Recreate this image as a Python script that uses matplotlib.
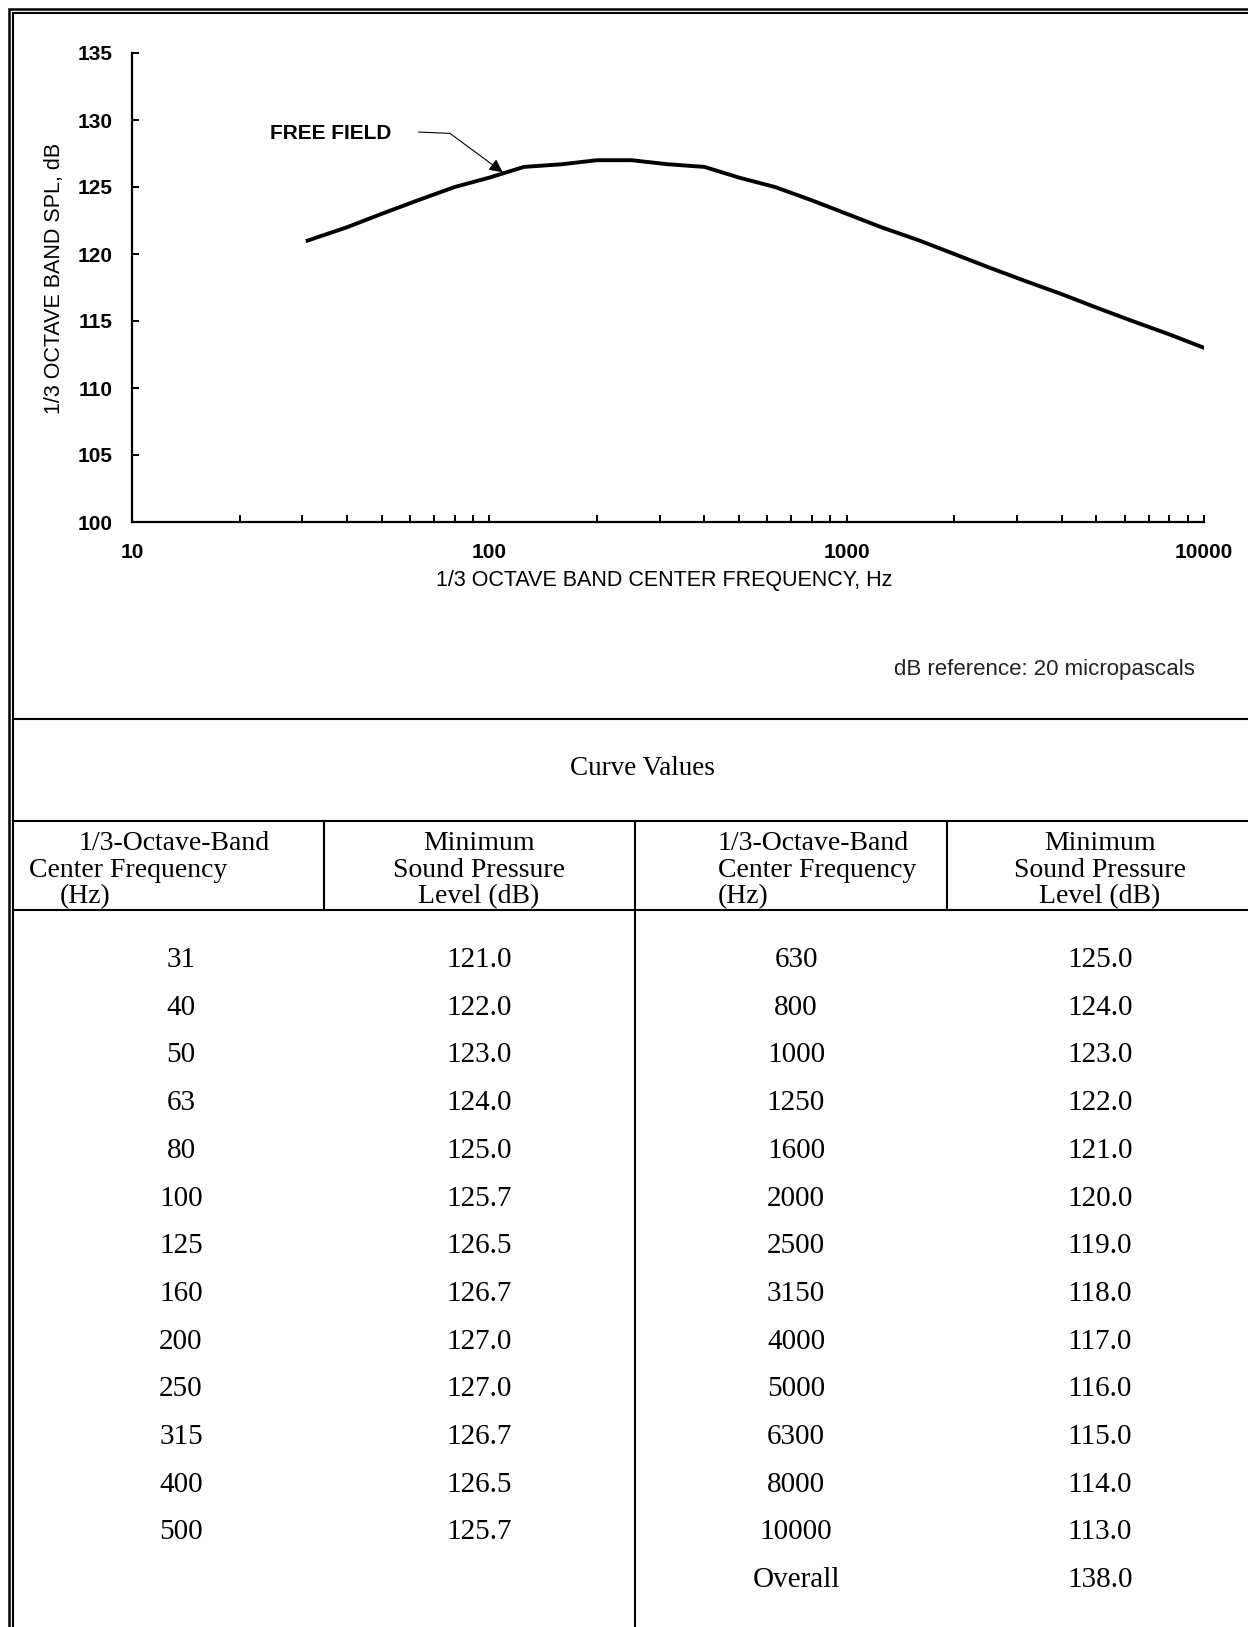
import numpy as np
import matplotlib.pyplot as plt
from matplotlib.ticker import FixedLocator, NullFormatter

# ---- table / curve values ----
freq_left = ['31', '40', '50', '63', '80', '100', '125', '160', '200', '250', '315', '400', '500']
spl_left = [121.0, 122.0, 123.0, 124.0, 125.0, 125.7, 126.5, 126.7, 127.0, 127.0, 126.7, 126.5, 125.7]
freq_right = ['630', '800', '1000', '1250', '1600', '2000', '2500', '3150', '4000', '5000', '6300',
              '8000', '10000']
spl_right = [125.0, 124.0, 123.0, 122.0, 121.0, 120.0, 119.0, 118.0, 117.0, 116.0, 115.0, 114.0, 113.0]
overall_label = 'Overall'
overall_value = 138.0

y_ticks = [100, 105, 110, 115, 120, 125, 130, 135]
x_major = [10, 100, 1000, 10000]

W, H = 1248, 1627
fig = plt.figure(figsize=(W / 100, H / 100), dpi=100)

# full-figure overlay in pixel coordinates for frame + table
bg = fig.add_axes([0, 0, 1, 1])
bg.set_xlim(0, W)
bg.set_ylim(H, 0)
bg.axis('off')

# double frame (right and bottom are cut off in the original)
bg.plot([8.5, 8.5, W], [H, 8.5, 8.5], color='k', lw=1.8, solid_joinstyle='miter')
bg.plot([12.5, 12.5, W], [H, 12.5, 12.5], color='k', lw=1.5, solid_joinstyle='miter')

# ---- chart ----
ax = fig.add_axes([132 / W, 1 - 522 / H, 1072 / W, 469 / H])
ax.patch.set_alpha(0)
freqs = [float(f) for f in freq_left + freq_right]
spl = spl_left + spl_right
ax.plot(freqs, spl, color='k', lw=2.8, solid_joinstyle='round')

ax.set_xscale('log')
ax.set_xlim(10, 10000)
ax.set_ylim(100, 135)
for s in ['top', 'right']:
    ax.spines[s].set_visible(False)
for s in ['left', 'bottom']:
    ax.spines[s].set_linewidth(1.6)

ax.xaxis.set_major_locator(FixedLocator(x_major))
ax.set_xticklabels([str(v) for v in x_major])
minor = [m * d for d in [10, 100, 1000] for m in range(2, 10)]
ax.xaxis.set_minor_locator(FixedLocator(minor))
ax.xaxis.set_minor_formatter(NullFormatter())
ax.set_yticks(y_ticks)

ax.tick_params(axis='both', which='both', direction='in', length=5, width=1.4)
ax.tick_params(axis='x', pad=15)
ax.tick_params(axis='y', pad=14)
for lab in ax.get_xticklabels() + ax.get_yticklabels():
    lab.set_fontfamily('Liberation Sans')
    lab.set_fontweight('bold')
    lab.set_fontsize(15)

ax.set_xlabel('1/3 OCTAVE BAND CENTER FREQUENCY, Hz', family='Liberation Sans', fontsize=15.5,
              va='center')
ax.xaxis.set_label_coords(0.496, -0.125)
ax.set_ylabel('1/3 OCTAVE BAND SPL, dB', family='Liberation Sans', fontsize=15.5, va='center')
ax.yaxis.set_label_coords(-0.072, 0.52)

# FREE FIELD callout
ax.text(24.3, 129.0, 'FREE FIELD', family='Liberation Sans', fontweight='bold', fontsize=15,
        va='center', ha='left')
ax.plot([63.5, 77.6], [129.1, 129.0], color='k', lw=0.8)
ax.annotate('', xy=(109, 126.1), xytext=(77.6, 129.0),
            arrowprops=dict(arrowstyle='-|>', color='k', lw=0.8, mutation_scale=20,
                            shrinkA=0, shrinkB=0))

fig.text(1195 / W, 1 - 670 / H, 'dB reference: 20 micropascals', family='Liberation Sans',
         fontsize=16, color='#222222', va='center', ha='right')

# ---- table ----
x0 = 12.5
for y in [719, 821, 910]:
    bg.plot([x0, W], [y, y], color='k', lw=1.5)
for x in [324, 947]:
    bg.plot([x, x], [821, 910], color='k', lw=1.5)
bg.plot([635, 635], [821, H], color='k', lw=1.5)

serif = 'Liberation Serif'
fs = 21
fs_hdr = 20
bg.text(642, 768, 'Curve Values', family=serif, fontsize=19.5, ha='center', va='center')

hdr_base = [850, 877, 903]
bg.text(79, hdr_base[0], '1/3-Octave-Band', family=serif, fontsize=fs_hdr, ha='left', va='baseline')
bg.text(29, hdr_base[1], 'Center Frequency', family=serif, fontsize=fs_hdr, ha='left', va='baseline')
bg.text(60, hdr_base[2], '(Hz)', family=serif, fontsize=fs_hdr, ha='left', va='baseline')
for i, t in enumerate(['Minimum', 'Sound Pressure', 'Level (dB)']):
    bg.text(479, hdr_base[i], t, family=serif, fontsize=fs_hdr, ha='center', va='baseline')
    bg.text(1100, hdr_base[i], t, family=serif, fontsize=fs_hdr, ha='center', va='baseline')
for i, t in enumerate(['1/3-Octave-Band', 'Center Frequency', '(Hz)']):
    bg.text(718, hdr_base[i], t, family=serif, fontsize=fs_hdr, ha='left', va='baseline')

row0, pitch = 960, 47.7
for i, (f, v) in enumerate(zip(freq_left, spl_left)):
    y = row0 + i * pitch
    bg.text(181, y, f, family=serif, fontsize=fs, ha='center', va='center')
    bg.text(479, y, f'{v:.1f}', family=serif, fontsize=fs, ha='center', va='center')
for i, (f, v) in enumerate(zip(freq_right + [overall_label], spl_right + [overall_value])):
    y = row0 + i * pitch
    bg.text(796, y, f, family=serif, fontsize=fs, ha='center', va='center')
    bg.text(1100, y, f'{v:.1f}', family=serif, fontsize=fs, ha='center', va='center')

fig.savefig('out.png', dpi=100)
